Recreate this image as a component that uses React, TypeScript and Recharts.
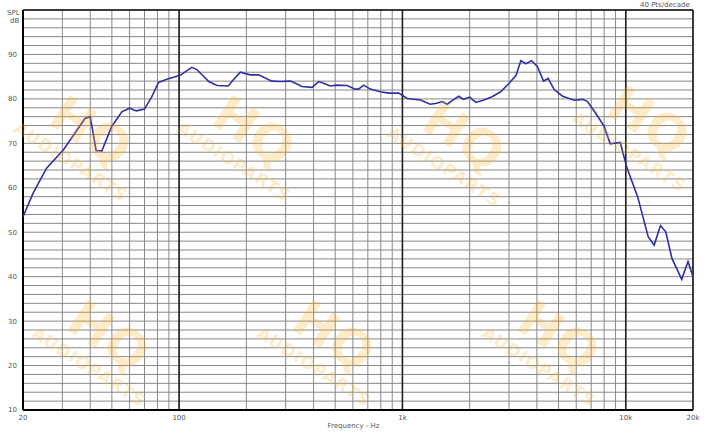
import React from "react";
import { LineChart, Line, XAxis, YAxis, CartesianGrid, ReferenceLine } from "recharts";

const freqs = [
  20, 22.2, 25.5, 30.3, 37.9, 40, 42.5, 45.1, 49.9, 55.4, 60, 64.3, 70, 75.5, 80.9, 88.2,
  101, 114, 120, 135.8, 147.8, 166, 175, 188, 208, 227, 260, 284, 315, 332, 355, 394,
  422, 444, 475, 509, 566, 614, 636, 670, 718, 796, 868, 962, 1050, 1203, 1332, 1424,
  1506, 1586, 1699, 1788, 1878, 2000, 2132, 2318, 2520, 2752, 2992, 3226, 3390, 3572,
  3786, 4020, 4280, 4490, 4780, 5210, 5880, 6420, 6740, 7350, 8000, 8520, 9450, 10100,
  11300, 12600, 13400, 14300, 15100, 16100, 17800, 19000, 20000,
];
const splValues = [
  53.5, 58.8, 64.4, 68.5, 75.6, 76, 68.4, 68.3, 73.8, 77.1, 77.9, 77.3, 77.7, 80.5, 83.7, 84.4,
  85.3, 87.1, 86.6, 83.9, 83, 82.9, 84.3, 86, 85.4, 85.4, 84, 83.9, 84, 83.5, 82.8, 82.6,
  83.9, 83.5, 82.9, 83.1, 83, 82.2, 82.2, 83.1, 82.2, 81.6, 81.3, 81.3, 80.1, 79.75, 78.8, 79,
  79.4, 78.8, 79.9, 80.6, 79.9, 80.4, 79.2, 79.75, 80.5, 81.6, 83.4, 85.3, 88.6, 87.9,
  88.6, 87.3, 84, 84.6, 82.1, 80.6, 79.7, 79.9, 79.4, 76.7, 73.8, 69.9, 70.2, 64.6,
  58, 49, 47.1, 51.5, 50.1, 44.1, 39.4, 43.4, 40,
];

const xGridTicks = [
  20, 30, 40, 50, 60, 70, 80, 90, 100, 200, 300, 400, 500, 600, 700, 800, 900, 1000,
  2000, 3000, 4000, 5000, 6000, 7000, 8000, 9000, 10000, 20000,
];
const xLabels: Record<number, string> = { 20: "20", 100: "100", 1000: "1k", 10000: "10k", 20000: "20k" };
const yGridTicks = [
  10, 12, 14, 16, 18, 20, 22, 24, 26, 28, 30, 32, 34, 36, 38, 40, 42, 44, 46, 48, 50, 52, 54,
  56, 58, 60, 62, 64, 66, 68, 70, 72, 74, 76, 78, 80, 82, 84, 86, 88, 90, 92, 94, 96, 98, 100,
];
const yLabels = [10, 20, 30, 40, 50, 60, 70, 80, 90];
const decadeLines = [100, 1000, 10000];

const data = freqs.map((f, i) => ({ f, db: splValues[i] }));

const watermarks = [
  [82, 145], [245, 145], [455, 150], [640, 135],
  [100, 350], [325, 350], [550, 350],
];

const txt: React.CSSProperties = {
  position: "absolute",
  fontFamily: "DejaVu Sans, sans-serif",
  fontSize: 7,
  color: "#555",
  whiteSpace: "nowrap",
  lineHeight: "8px",
};

function Watermark({ cx, cy }: { cx: number; cy: number }) {
  return (
    <div
      style={{
        position: "absolute",
        left: cx - 70,
        top: cy - 42,
        width: 140,
        height: 84,
        transform: "rotate(33deg)",
        color: "rgba(250, 180, 40, 0.25)",
        fontFamily: "DejaVu Sans, sans-serif",
        fontWeight: 700,
        textAlign: "center",
        pointerEvents: "none",
      }}
    >
      <div style={{ fontSize: 50, lineHeight: "52px" }}>HQ</div>
      <div style={{ fontSize: 17, lineHeight: "20px", letterSpacing: 1 }}>AUDIOPARTS</div>
    </div>
  );
}

export default function App() {
  return (
    <div style={{ position: "absolute", left: 0, top: 0, width: 707, height: 434, background: "#fff", overflow: "hidden" }}>
      <LineChart width={707} height={434} data={data} margin={{ top: 10, right: 14, left: 0, bottom: 0 }}>
        <CartesianGrid stroke="#888" strokeWidth={1} />
        <XAxis
          dataKey="f"
          type="number"
          scale="log"
          domain={[20, 20000]}
          ticks={xGridTicks}
          allowDataOverflow
          tickFormatter={(v: number) => xLabels[v] ?? ""}
          tickLine={false}
          axisLine={false}
          tickSize={3}
          tickMargin={2}
          height={24}
          interval={0}
          tick={{ fontSize: 7, fill: "#555", fontFamily: "DejaVu Sans, sans-serif" }}
        />
        <YAxis
          type="number"
          domain={[10, 100]}
          ticks={yGridTicks}
          tickFormatter={(v: number) => (yLabels.includes(v) ? String(v) : "")}
          tickLine={false}
          axisLine={false}
          tickSize={4}
          tickMargin={2}
          width={23}
          interval={0}
          tick={{ fontSize: 7, fill: "#555", fontFamily: "DejaVu Sans, sans-serif" }}
        />
        {decadeLines.map((d) => (
          <ReferenceLine key={d} x={d} stroke="#222" strokeWidth={1.6} />
        ))}
        <ReferenceLine x={20} stroke="#000" strokeWidth={2} />
        <ReferenceLine x={20000} stroke="#111" strokeWidth={1.5} />
        <ReferenceLine y={10} stroke="#000" strokeWidth={2} />
        <ReferenceLine y={100} stroke="#111" strokeWidth={1.5} />
        <Line
          dataKey="db"
          type="linear"
          stroke="#2f2fa6"
          strokeWidth={1.6}
          dot={false}
          isAnimationActive={false}
        />
      </LineChart>
      <div style={{ ...txt, left: 7, top: 9 }}>SPL</div>
      <div style={{ ...txt, left: 10, top: 17 }}>dB</div>
      <div style={{ ...txt, left: 640, top: 1 }}>40 Pts/decade</div>
      <div style={{ ...txt, left: 0, width: 707, textAlign: "center", top: 422 }}>Frequency - Hz</div>
      {watermarks.map(([x, y], i) => (
        <Watermark key={i} cx={x} cy={y} />
      ))}
    </div>
  );
}
